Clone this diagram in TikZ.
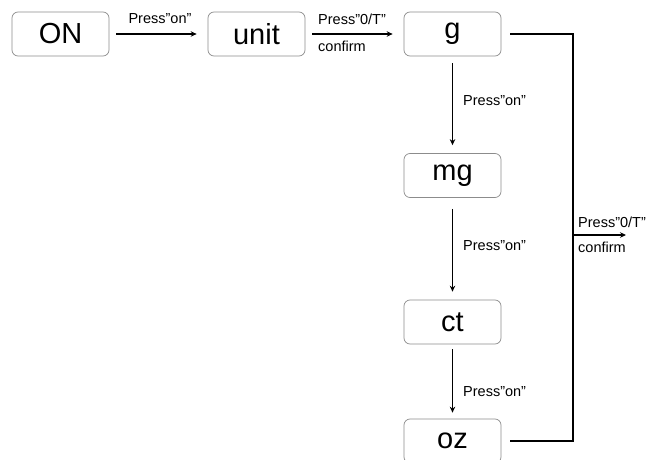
\documentclass[tikz,border=0pt]{standalone}
\usepackage{fontspec}
\setmainfont{Liberation Sans}
\usetikzlibrary{arrows.meta}
\begin{document}
\begin{tikzpicture}[x=1pt,y=1pt,
  box/.style={draw=black!45, line width=0.7pt, rounded corners=6pt, minimum width=97pt, minimum height=44pt, inner sep=0pt, font=\fontsize{29}{30}\selectfont},
  conn/.style={line width=1.3pt, draw=black},
  arr/.style={conn, -{Stealth[length=6pt,width=5.5pt]}},
  lbl/.style={font=\fontsize{14.5}{16}\selectfont, inner sep=0pt}]
\useasboundingbox (0,0) rectangle (646,-460);
\begin{scope}
\clip (0,0) rectangle (646,-460);
\node[box] (on) at (60.5,-34) {ON};
\node[box] (unit) at (256.5,-34) {unit};
\node[box] (g) at (452.5,-34) {g};
\node[box] (mg) at (452.5,-175.5) {mg};
\node[box] (ct) at (452.5,-322) {ct};
\node[box] (oz) at (452.5,-441) {oz};

\draw[arr, shorten <=7pt, shorten >=11pt] (on.east) -- (unit.west);
\draw[arr, shorten <=7pt, shorten >=11pt] (unit.east) -- (g.west);
\draw[arr, shorten <=7pt, shorten >=8pt] (g.south) -- (mg.north);
\draw[arr, shorten <=11pt, shorten >=8pt] (mg.south) -- (ct.north);
\draw[arr, shorten <=5pt, shorten >=6pt] (ct.south) -- (oz.north);

\coordinate (r1) at (573,-33);
\coordinate (out) at (626,-235);
\draw[conn] ([xshift=9pt]g.east) -- (r1 |- g.east) -- (r1 |- oz.east) -- ([xshift=9pt]oz.east);
\draw[arr] (r1 |- out) -- (out);

\node[lbl] (l1) at (160,-19) {Press”on”};
\node[lbl, anchor=west] (l2) at (318,-19) {Press”0/T”};
\node[lbl, anchor=west] (l3) at (318,-46) {confirm};
\node[lbl, anchor=west] (l4) at (463,-101) {Press”on”};
\node[lbl, anchor=west] (l5) at (463,-246) {Press”on”};
\node[lbl, anchor=west] (l6) at (463,-392) {Press”on”};
\node[lbl, anchor=west] (l7) at (578,-222) {Press”0/T”};
\node[lbl, anchor=west] (l8) at (578,-247) {confirm};
\end{scope}
\end{tikzpicture}
\end{document}
